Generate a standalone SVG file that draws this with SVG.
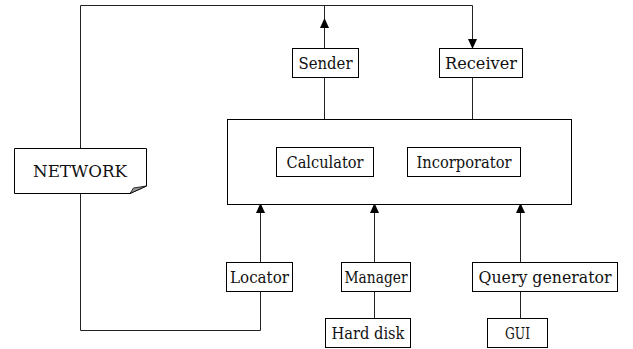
<svg xmlns="http://www.w3.org/2000/svg" width="633" height="349" viewBox="0 0 633 349">
  <defs>
    <marker id="arrow" markerWidth="9" markerHeight="11" refX="9" refY="4.5" orient="auto" markerUnits="userSpaceOnUse">
      <path d="M0,0 L10,4.5 L0,9 Z" fill="#000"/>
    </marker>
    <style>
      .box { fill: #fff; stroke: #000; stroke-width: 1; }
      .wire { fill: none; stroke: #222; stroke-width: 1; }
      .label { font-family: 'DejaVu Serif', 'Liberation Serif', serif; font-size: 16px; fill: #111; text-anchor: middle; }
    </style>
  </defs>
  <rect width="633" height="349" fill="#fff"/>

  <!-- connectors -->
  <g id="connectors">
    <path class="wire" d="M80.5,148 V5.5 H472.5 V48" marker-end="url(#arrow)"/>
    <path class="wire" d="M324.5,119 V48 M324.5,5.5 V19"/>
    <path class="wire" d="M324.5,48 V19" marker-end="url(#arrow)"/>
    <path class="wire" d="M472.5,77 V119"/>
    <path class="wire" d="M80.5,193 V330.5 H260.5 V291"/>
    <path class="wire" d="M260.5,262 V204" marker-end="url(#arrow)"/>
    <path class="wire" d="M374.5,262 V204" marker-end="url(#arrow)"/>
    <path class="wire" d="M520.5,262 V204" marker-end="url(#arrow)"/>
    <path class="wire" d="M374.5,291 V318"/>
    <path class="wire" d="M520.5,291 V318"/>
  </g>

  <g id="network">
    <path class="box" d="M14.5,148.5 H146.5 V186 L130,193.5 H14.5 Z"/>
    <path d="M130,193.5 L133.5,188 L146.5,186 Z" fill="#999" stroke="#000" stroke-width="0.8"/>
    <text class="label" x="80" y="177" textLength="94" lengthAdjust="spacingAndGlyphs">NETWORK</text>
  </g>

  <g id="sender">
    <rect class="box" x="292.5" y="48.5" width="66" height="29"/>
    <text class="label" x="325.5" y="69" textLength="54" lengthAdjust="spacingAndGlyphs">Sender</text>
  </g>

  <g id="receiver">
    <rect class="box" x="439.5" y="48.5" width="83" height="29"/>
    <text class="label" x="481" y="69" textLength="72" lengthAdjust="spacingAndGlyphs">Receiver</text>
  </g>

  <g id="core">
    <rect class="box" x="227.5" y="119.5" width="344" height="85"/>
  </g>

  <g id="calculator">
    <rect class="box" x="276.5" y="147.5" width="97" height="29"/>
    <text class="label" x="325" y="168" textLength="77" lengthAdjust="spacingAndGlyphs">Calculator</text>
  </g>

  <g id="incorporator">
    <rect class="box" x="407.5" y="147.5" width="113" height="29"/>
    <text class="label" x="464" y="168" textLength="95" lengthAdjust="spacingAndGlyphs">Incorporator</text>
  </g>

  <g id="locator">
    <rect class="box" x="226.5" y="262.5" width="66" height="29"/>
    <text class="label" x="259.5" y="283" textLength="59" lengthAdjust="spacingAndGlyphs">Locator</text>
  </g>

  <g id="manager">
    <rect class="box" x="341.5" y="262.5" width="69" height="29"/>
    <text class="label" x="376" y="283" textLength="63" lengthAdjust="spacingAndGlyphs">Manager</text>
  </g>

  <g id="query-generator">
    <rect class="box" x="472.5" y="262.5" width="145" height="29"/>
    <text class="label" x="545" y="283" textLength="133" lengthAdjust="spacingAndGlyphs">Query generator</text>
  </g>

  <g id="hard-disk">
    <rect class="box" x="325.5" y="318.5" width="85" height="29"/>
    <text class="label" x="368" y="339" textLength="73" lengthAdjust="spacingAndGlyphs">Hard disk</text>
  </g>

  <g id="gui">
    <rect class="box" x="487.5" y="318.5" width="60" height="29"/>
    <text class="label" x="517.5" y="339" textLength="25" lengthAdjust="spacingAndGlyphs">GUI</text>
  </g>
</svg>
